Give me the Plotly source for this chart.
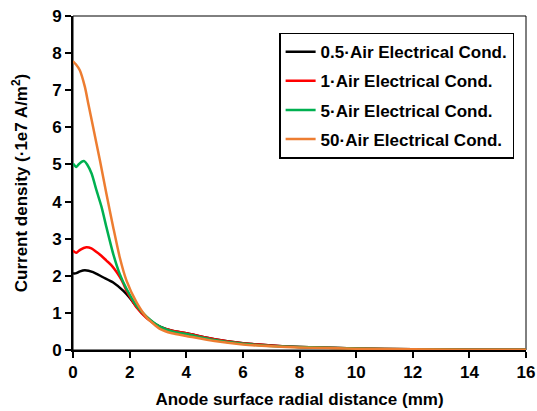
import plotly.graph_objects as go

names = ["0.5·Air Electrical Cond.", "1·Air Electrical Cond.",
         "5·Air Electrical Cond.", "50·Air Electrical Cond."]
colors = ["#000000", "#ff0000", "#00b050", "#ed7d31"]

x_black = [0, 0.06, 0.12, 0.25, 0.42, 0.71, 1.06, 1.42, 1.77, 2.0, 2.12, 2.3, 2.48, 2.75, 3.07, 3.5, 4, 5, 6, 7, 8, 10, 12, 14, 16]
y_black = [2.07, 2.06, 2.07, 2.12, 2.15, 2.1, 1.96, 1.82, 1.6, 1.41, 1.29, 1.12, 0.97, 0.78, 0.63, 0.52, 0.45, 0.29, 0.18, 0.12, 0.08, 0.04, 0.02, 0.01, 0.005]

x_red = [0, 0.06, 0.12, 0.25, 0.47, 0.65, 0.83, 1.0, 1.18, 1.36, 1.54, 1.72, 1.89, 2.06, 2.24, 2.6, 3.07, 3.5, 4, 5, 6, 7, 8, 10, 12, 14, 16]
y_red = [2.68, 2.64, 2.62, 2.7, 2.77, 2.74, 2.64, 2.54, 2.41, 2.28, 2.1, 1.88, 1.6, 1.37, 1.15, 0.86, 0.62, 0.52, 0.45, 0.29, 0.18, 0.12, 0.08, 0.04, 0.02, 0.01, 0.005]

x_green = [0, 0.06, 0.12, 0.2, 0.3, 0.4, 0.5, 0.66, 0.83, 1.01, 1.18, 1.42, 1.65, 1.89, 2.24, 2.6, 3.07, 3.5, 4, 5, 6, 7, 8, 10, 12, 14, 16]
y_green = [5.02, 4.97, 4.93, 5.0, 5.07, 5.09, 5.0, 4.75, 4.3, 3.85, 3.31, 2.59, 2.05, 1.65, 1.2, 0.9, 0.63, 0.5, 0.43, 0.27, 0.17, 0.11, 0.08, 0.04, 0.02, 0.01, 0.005]

x_orange = [0, 0.1, 0.24, 0.42, 0.55, 0.71, 0.95, 1.18, 1.42, 1.65, 1.89, 2.24, 2.6, 3.07, 3.5, 4, 5, 6, 7, 8, 10, 12, 14, 16]
y_orange = [7.78, 7.7, 7.54, 7.09, 6.6, 6.01, 5.11, 4.21, 3.31, 2.5, 1.87, 1.29, 0.88, 0.57, 0.45, 0.38, 0.24, 0.15, 0.1, 0.07, 0.035, 0.018, 0.01, 0.005]

xs = [x_black, x_red, x_green, x_orange]
ys = [y_black, y_red, y_green, y_orange]

fig = go.Figure()
for i in range(4):
    fig.add_trace(go.Scatter(x=xs[i], y=ys[i], mode="lines", name=names[i],
                             legendgroup=str(i),
                             line=dict(color=colors[i], width=2.5, shape="spline", smoothing=0.6)))

font = "Liberation Sans, Arial, sans-serif"
FS = 17
fig.update_layout(
    width=537, height=411,
    margin=dict(l=73, r=11, t=16, b=61),
    paper_bgcolor="white", plot_bgcolor="white",
    font=dict(family=font, size=FS, color="black"),
    showlegend=True,
    legend=dict(x=0.455, y=0.95, xanchor="left", yanchor="top",
                bordercolor="black", borderwidth=1.5, bgcolor="white",
                font=dict(family=font, size=FS, color="black", weight="bold"),
                tracegroupgap=4, itemwidth=30),
    xaxis=dict(range=[0, 16], tickvals=[0, 2, 4, 6, 8, 10, 12, 14, 16], automargin=False,
               showgrid=False, zeroline=False, showline=True, linecolor="black", linewidth=2,
               ticks="outside", ticklen=6, tickwidth=1.5, tickcolor="black",
               tickfont=dict(family=font, size=FS, weight="bold"),
               title=dict(text="Anode surface radial distance (mm)",
                          font=dict(family=font, size=FS, weight="bold"), standoff=12)),
    yaxis=dict(range=[0, 9], tickvals=list(range(10)), automargin=False,
               showgrid=False, zeroline=False, showline=True, linecolor="black", linewidth=2,
               ticks="outside", ticklen=6, tickwidth=1.5, tickcolor="black",
               tickfont=dict(family=font, size=FS, weight="bold"),
               title=dict(text="Current density (·1e7 A/m<sup>2</sup>)",
                          font=dict(family=font, size=FS, weight="bold"), standoff=20)),
)
fig.add_shape(type="rect", xref="paper", yref="paper", x0=0, y0=0, x1=1, y1=1,
              line=dict(color="black", width=1), layer="below")
fig.write_html("out.html")
